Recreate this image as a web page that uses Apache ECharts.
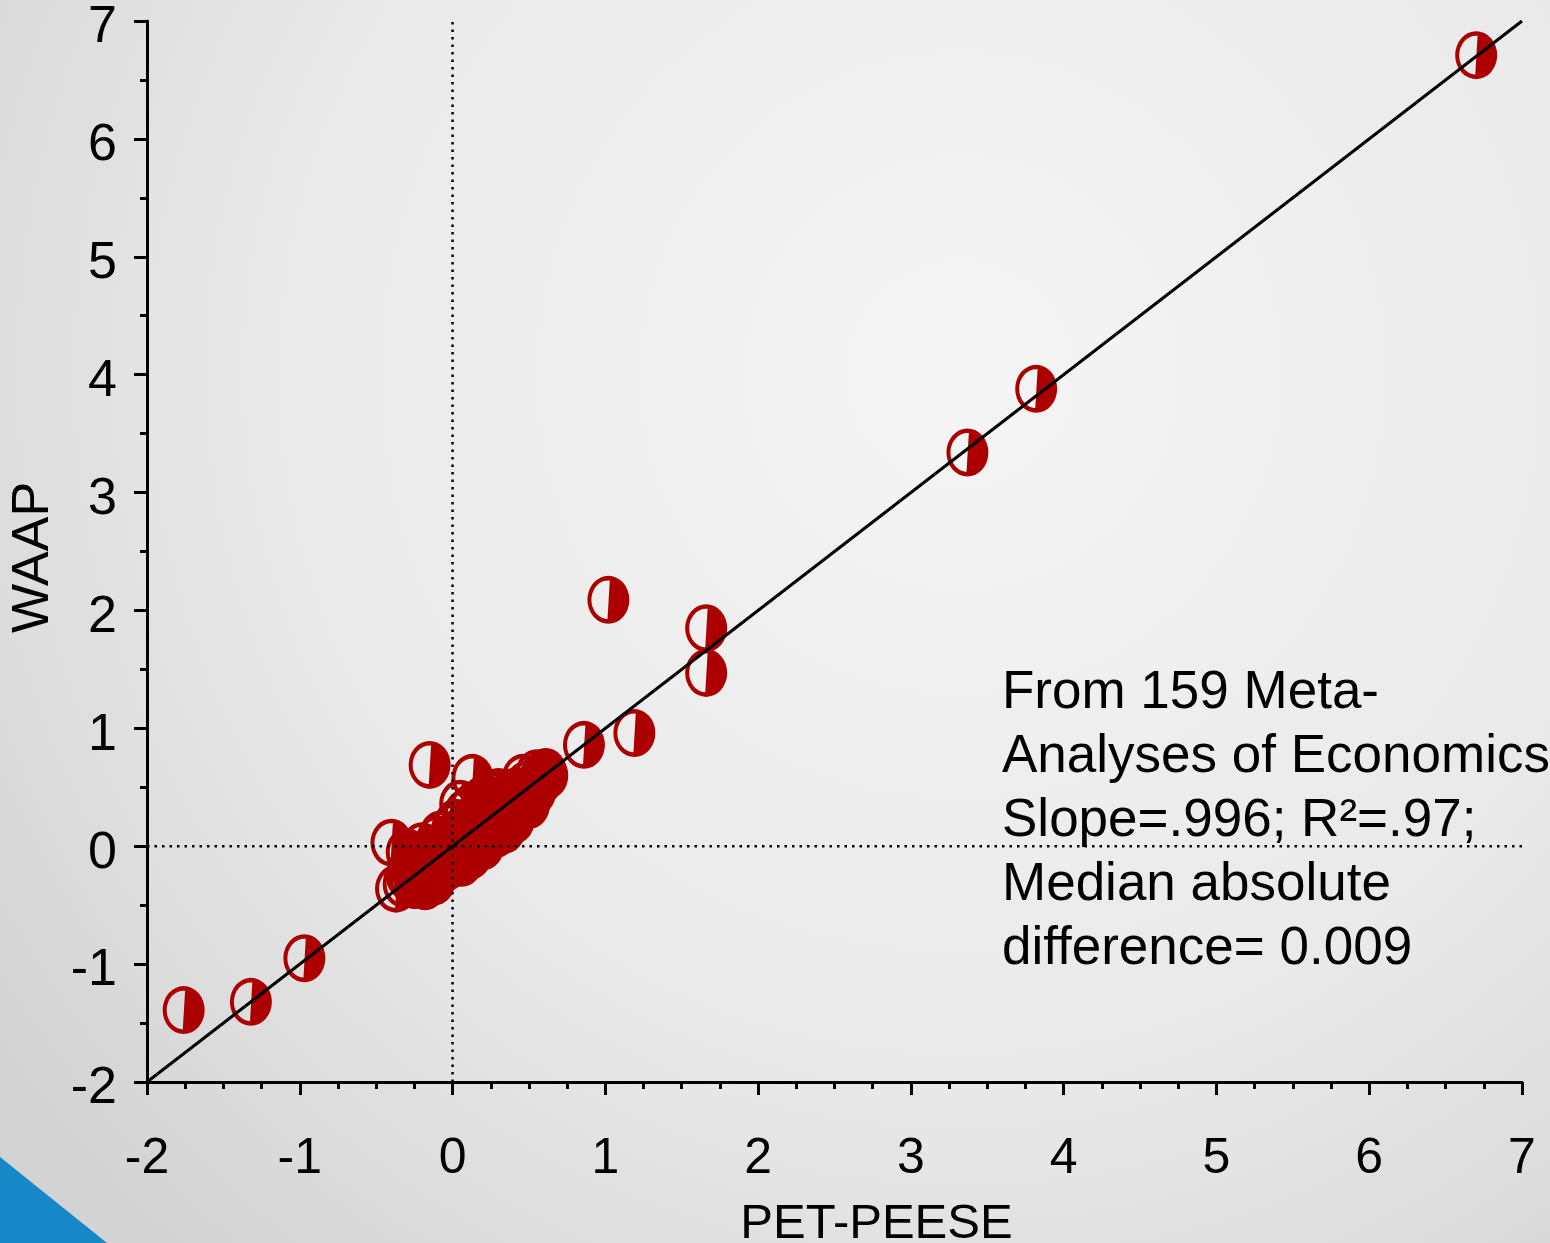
<!DOCTYPE html>
<html>
<head>
<meta charset="utf-8">
<title>WAAP vs PET-PEESE</title>
<script src="https://cdn.jsdelivr.net/npm/echarts@6/dist/echarts.min.js"></script>
<style>
  html, body { margin: 0; padding: 0; }
  #chart { width: 1550px; height: 1243px; }
</style>
</head>
<body>
<div id="chart"></div>
<script>
// estimates per meta-analysis: [PET-PEESE, WAAP]
var outliers = [
  [6.70, 6.71], [3.82, 3.88], [3.37, 3.34], [1.02, 2.09], [1.66, 1.85],
  [1.66, 1.47], [1.19, 0.96], [0.86, 0.86], [0.61, 0.63], [-0.15, 0.69],
  [0.13, 0.58], [0.05, 0.36], [-0.40, 0.03], [-0.37, -0.36], [-0.25, -0.33],
  [-0.97, -0.95], [-1.32, -1.32], [-1.76, -1.39]
]
var cluster = [
  [-0.30, -0.25], [-0.28, -0.18], [-0.25, -0.28], [-0.22, -0.12], [-0.20, -0.22],
  [-0.18, -0.06], [-0.15, -0.18], [-0.12, -0.08], [-0.10, -0.14], [-0.08, -0.03],
  [-0.05, -0.10], [-0.04, -0.02], [-0.02, -0.12], [0.00, 0.00], [0.01, -0.04],
  [0.02, 0.04], [0.03, 0.01], [0.05, 0.07], [0.06, 0.02], [0.08, 0.11],
  [0.09, 0.05], [0.10, 0.15], [0.12, 0.09], [0.13, 0.19], [0.15, 0.12],
  [0.16, 0.23], [0.18, 0.16], [0.20, 0.25], [0.22, 0.19], [0.24, 0.29],
  [0.26, 0.23], [0.28, 0.32], [0.30, 0.27], [0.33, 0.36], [0.35, 0.32],
  [0.38, 0.40], [0.40, 0.37], [0.43, 0.44], [0.46, 0.42], [0.50, 0.48],
  [0.55, 0.53], [0.08, 0.28], [0.12, 0.33], [0.20, 0.40], [0.30, 0.43],
  [0.02, 0.20], [-0.08, 0.10], [-0.20, 0.00], [-0.04, -0.16], [0.10, -0.02],
  [-0.30, -0.05], [0.22, 0.08], [0.35, 0.22], [0.45, 0.36],
  [-0.22, -0.26], [-0.16, -0.24], [-0.10, -0.22], [-0.04, -0.18], [0.02, -0.10],
  [0.08, -0.06], [0.14, 0.00], [0.18, 0.04], [0.24, 0.10], [0.30, 0.18],
  [0.36, 0.24], [0.42, 0.32], [0.48, 0.38], [0.54, 0.46], [0.58, 0.55],
  [0.62, 0.60], [-0.26, -0.16], [-0.20, -0.12], [-0.14, -0.06], [-0.08, 0.00],
  [-0.02, 0.06], [0.04, 0.12], [0.10, 0.20], [0.16, 0.26], [0.24, 0.32],
  [0.32, 0.40], [0.40, 0.46], [0.48, 0.52], [-0.32, -0.32], [-0.28, -0.28],
  [0.20, 0.00], [0.28, 0.10], [0.12, -0.08], [-0.12, -0.30], [0.40, 0.22],
  [0.50, 0.35], [-0.10, 0.06], [0.00, 0.16], [0.30, 0.46], [0.46, 0.58],
  [0.55, 0.62], [0.06, -0.14], [-0.18, -0.34], [0.34, 0.14]
]
var fitLineX = [-2, 7]
var fitLineY = [-2, 7]
var zeroLineX = [-2, 7]
var zeroLineY = [-2, 7]
var xTicks = ['-2', '-1', '0', '1', '2', '3', '4', '5', '6', '7']
var yTicks = ['-2', '-1', '0', '1', '2', '3', '4', '5', '6', '7']
var noteLines = [
  'From 159 Meta-',
  'Analyses of Economics',
  'Slope=.996; R\u00b2=.97;',
  'Median absolute',
  'difference= 0.009'
]

var red = '#ac0000'
// ring with the right half filled
var halfCircle = 'path://M0,20A20,20,0,1,1,40,20A20,20,0,1,1,0,20Z' +
  'M3.8,20A16.2,16.2,0,1,0,36.2,20A16.2,16.2,0,1,0,3.8,20Z' +
  'M21.5,1.66A18.4,18.4,0,0,1,19,38.37Z'

var chart = echarts.init(document.getElementById('chart'))

var axisCommon = {
  type: 'value',
  min: -2,
  max: 7,
  interval: 1,
  splitLine: { show: false },
  axisLine: { show: true, onZero: false, lineStyle: { color: '#000', width: 3 } },
  axisTick: { show: true, length: 13, lineStyle: { color: '#000', width: 3 } }
}

var dotted = { color: '#000', width: 2.5, type: [2.5, 5] }

var option = {
  animation: false,
  backgroundColor: {
    type: 'radial', x: 0.62, y: 0.3, r: 0.95,
    colorStops: [
      { offset: 0, color: '#f5f5f5' },
      { offset: 0.6, color: '#e9e9e9' },
      { offset: 1, color: '#d3d3d3' }
    ]
  },
  grid: { left: 147, right: 28, top: 21, bottom: 161, outerBoundsMode: 'none' },
  xAxis: Object.assign({}, axisCommon, {
    name: 'PET-PEESE',
    nameLocation: 'middle',
    nameGap: 118,
    nameTextStyle: {
      fontFamily: '"Liberation Sans", Arial',
      fontSize: 49, color: '#000', padding: [0, 0, 0, 84]
    },
    minorTick: { show: true, splitNumber: 4, length: 7, lineStyle: { color: '#000', width: 3 } },
    axisLabel: {
      margin: 52,
      fontFamily: '"Liberation Sans", Arial',
      fontSize: 50, color: '#000',
      formatter: function (v) { return xTicks[Math.round(v) + 2] }
    }
  }),
  yAxis: Object.assign({}, axisCommon, {
    name: 'WAAP',
    nameLocation: 'middle',
    nameGap: 80,
    nameTextStyle: { fontFamily: '"Liberation Sans", Arial', fontSize: 52, color: '#000', padding: [0, 12, 0, 0] },
    minorTick: { show: true, splitNumber: 2, length: 7, lineStyle: { color: '#000', width: 3 } },
    axisLabel: {
      margin: 30,
      fontFamily: '"Liberation Sans", Arial',
      fontSize: 52, color: '#000',
      formatter: function (v) { return '{v|' + yTicks[Math.round(v) + 2] + '}' },
      rich: { v: { fontFamily: '"Liberation Sans", Arial', fontSize: 52, color: '#000', padding: [14, 0, 0, 0] } }
    }
  }),
  graphic: [
    {
      type: 'polygon',
      shape: { points: [[0, 1157], [107, 1243], [0, 1243]] },
      style: { fill: '#1687c7' },
      silent: true
    },
    {
      type: 'text',
      left: 1002,
      top: 661,
      style: {
        text: noteLines.join('\n'),
        font: '53px "Liberation Sans", Arial',
        lineHeight: 64,
        fill: '#000'
      },
      z: 10
    }
  ],
  series: [
    {
      name: 'zero-x',
      type: 'line',
      data: [[0, zeroLineY[0]], [0, zeroLineY[1]]],
      symbol: 'none',
      lineStyle: dotted,
      silent: true
    },
    {
      name: 'zero-y',
      type: 'line',
      data: [[zeroLineX[0], 0], [zeroLineX[1], 0]],
      symbol: 'none',
      lineStyle: dotted,
      silent: true
    },
    {
      name: 'fit',
      type: 'line',
      data: fitLineX.map(function (x, i) { return [x, fitLineY[i]] }),
      symbol: 'none',
      lineStyle: { color: '#000', width: 3 },
      silent: true
    },
    {
      name: 'estimates',
      type: 'scatter',
      data: cluster.concat(outliers),
      symbol: halfCircle,
      symbolSize: [42, 48],
      itemStyle: { color: red, opacity: 1 }
    }
  ]
}

chart.setOption(option)
</script>
</body>
</html>
